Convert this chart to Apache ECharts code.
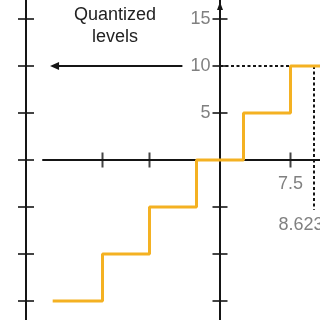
<!DOCTYPE html>
<html><head><meta charset="utf-8">
<script src="https://cdn.jsdelivr.net/npm/echarts@6/dist/echarts.min.js"></script>
<style>html,body{margin:0;padding:0;background:#fff}#c{width:320px;height:320px}</style>
</head><body><div id="c"></div>
<script>
// ---- data ----
const levelTicks = [-15, -10, -5, 0, 5, 10, 15];
const yLabelValues = [5, 10, 15];
const xTickValues = [-12.5, -7.5, 7.5];
const xLabelValues = [7.5];
const stepX = [-17.8, -12.5, -7.5, -2.5, 2.5, 7.5, 10.8];
const stepY = [-15, -10, -5, 0, 5, 10, 10];
const inputValue = 8.623;     // label value
const inputMarkX = 10;        // where the dotted guide is drawn in the figure
const inputBottom = -5.3;
const quantLevel = 10;
const decisionBound = 7.5;
const arrowSpan = [-4.0, -17.6];
const annotation = 'Quantized\nlevels';

// ---- layout ----
const PX = 9.4;
const X0 = 220, Y0 = 160, W = 320, H = 320;
const yMin = -(H - Y0) / PX, yMax = Y0 / PX;
const xMax = (W - X0) / PX;
const xMinMain = -(X0 - 43) / PX;
const xMinLeft = -(X0 - 26) / PX;
const black = '#151515', gray = '#606060', orange = '#F4B122';
const font = '"Liberation Sans", Arial, sans-serif';

const chart = echarts.init(document.getElementById('c'), null, {renderer: 'canvas'});

const tickStyle = {color: black};
const hidden = {color: 'rgba(0,0,0,0)'};
const labelText = {color: gray, fontSize: 18, fontFamily: font};
const option = {
  backgroundColor: '#fff',
  animation: false,
  grid: [
    {left: 43, right: 0, top: 0, bottom: 0, containLabel: false, outerBoundsMode: 'none'},
    {left: 26, right: 0, top: 0, bottom: 0, containLabel: false, outerBoundsMode: 'none'}
  ],
  xAxis: [
    {
      type: 'value', gridIndex: 0, min: xMinMain, max: xMax, position: 'bottom',
      axisLine: {show: true, onZero: true, lineStyle: {color: black, width: 2}},
      axisTick: {show: false}, axisLabel: {show: false}, splitLine: {show: false}
    },
    {type: 'value', gridIndex: 1, min: xMinLeft, max: xMax, show: false}
  ],
  yAxis: [
    {
      type: 'value', gridIndex: 0, min: yMin, max: yMax, position: 'left',
      axisLine: {show: true, onZero: true, symbol: ['none', 'triangle'], symbolSize: [6, 8],
        symbolOffset: [0, -6], lineStyle: {color: black, width: 2}},
      axisTick: {show: false}, axisLabel: {show: false}, splitLine: {show: false}
    },
    {
      type: 'value', gridIndex: 1, min: yMin, max: yMax, position: 'left',
      axisLine: {show: true, onZero: false, lineStyle: {color: black, width: 2}},
      axisTick: {show: false}, axisLabel: {show: false}, splitLine: {show: false}
    }
  ],
  graphic: [{
    type: 'text', x: 115, y: 4,
    style: {text: annotation, font: '18px ' + font, fill: '#222', align: 'center', verticalAlign: 'top', lineHeight: 22}
  }],
  series: [
    {
      type: 'line', xAxisIndex: 0, yAxisIndex: 0, step: 'end', symbol: 'none', z: 5,
      data: stepX.map((x, i) => [x, stepY[i]]),
      lineStyle: {color: orange, width: 3}
    },
    {
      type: 'line', xAxisIndex: 0, yAxisIndex: 0, symbol: 'none', z: 4,
      data: [[0, quantLevel], [decisionBound, quantLevel]],
      lineStyle: {color: black, width: 2, type: [3, 2.5]}
    },
    {
      type: 'line', xAxisIndex: 0, yAxisIndex: 0, symbol: 'none', z: 4,
      data: [[inputMarkX, quantLevel], [inputMarkX, inputBottom]],
      lineStyle: {color: black, width: 2, type: [3, 2.5]}
    },
    {
      type: 'line', xAxisIndex: 0, yAxisIndex: 0, symbol: 'none', data: [],
      markLine: {
        silent: true, symbol: ['none', 'triangle'], symbolSize: [8, 9],
        lineStyle: {color: black, width: 2, type: 'solid'}, label: {show: false},
        data: [[{coord: [arrowSpan[0], quantLevel]}, {coord: [arrowSpan[1], quantLevel]}]]
      }
    },
    // ticks crossing the main y axis
    {
      type: 'scatter', xAxisIndex: 0, yAxisIndex: 0, symbol: 'rect', symbolSize: [15, 2], z: 3,
      itemStyle: tickStyle, data: levelTicks.map(v => [0, v]), clip: false
    },
    // ticks crossing the x axis
    {
      type: 'scatter', xAxisIndex: 0, yAxisIndex: 0, symbol: 'rect', symbolSize: [2, 15], z: 3,
      itemStyle: tickStyle, data: xTickValues.map(v => [v, 0]), clip: false
    },
    // ticks crossing the left axis
    {
      type: 'scatter', xAxisIndex: 1, yAxisIndex: 1, symbol: 'rect', symbolSize: [16, 2], z: 3,
      itemStyle: tickStyle, data: levelTicks.map(v => [xMinLeft, v]), clip: false
    },
    // y tick labels
    {
      type: 'scatter', xAxisIndex: 0, yAxisIndex: 0, symbolSize: 1, itemStyle: hidden,
      data: yLabelValues.map(v => [0, v]),
      label: Object.assign({show: true, position: 'left', distance: 9, formatter: p => String(p.value[1])}, labelText)
    },
    // x tick labels
    {
      type: 'scatter', xAxisIndex: 0, yAxisIndex: 0, symbolSize: 1, itemStyle: hidden,
      data: xLabelValues.map(v => [v, 0]),
      label: Object.assign({show: true, position: 'bottom', distance: 15, formatter: p => String(p.value[0])}, labelText)
    },
    {
      type: 'scatter', xAxisIndex: 0, yAxisIndex: 0, symbolSize: 1, itemStyle: hidden,
      data: [[inputValue, inputBottom]],
      label: Object.assign({show: true, position: 'bottom', distance: 6, formatter: String(inputValue)}, labelText)
    }
  ]
};
chart.setOption(option);
</script>
</body></html>
